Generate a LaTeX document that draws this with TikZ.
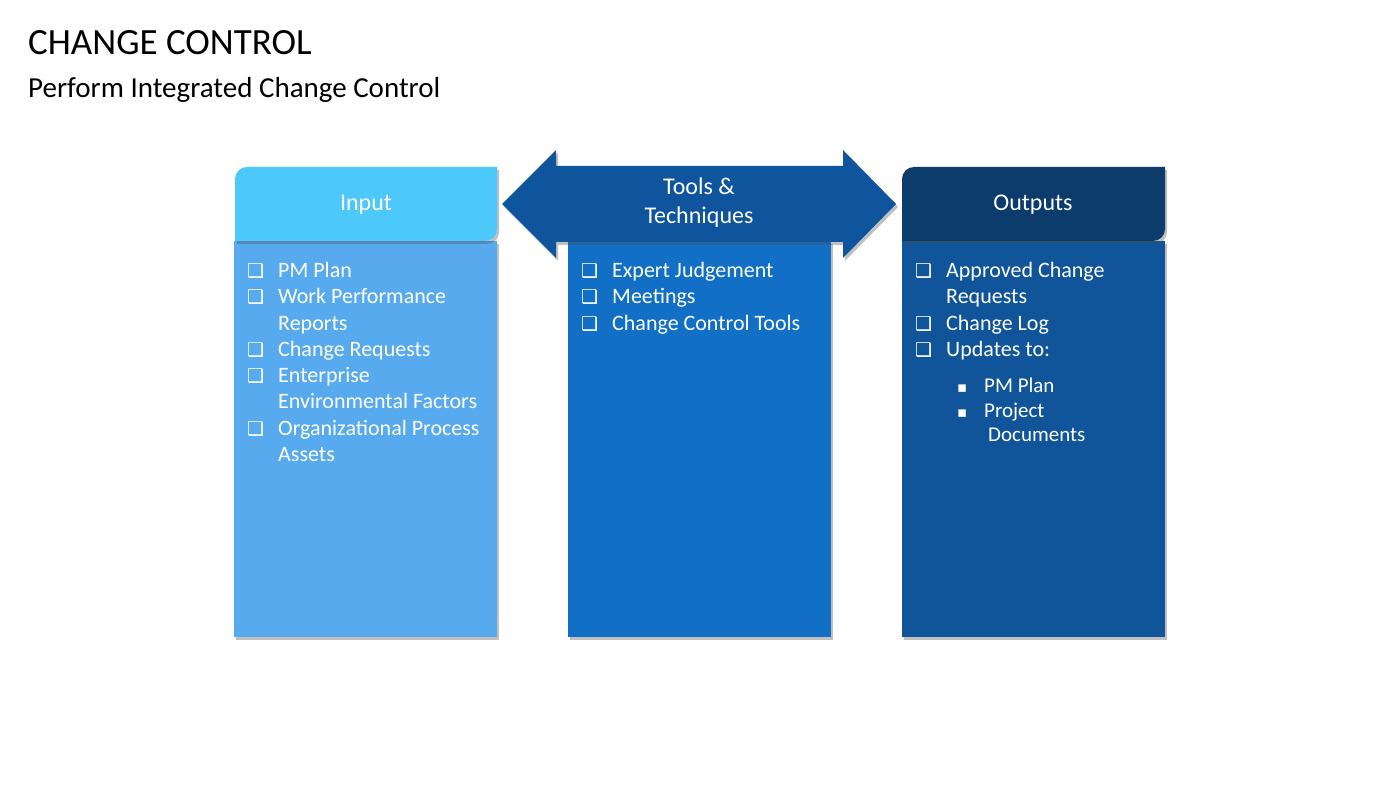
\documentclass[tikz,border=0pt]{standalone}
\usepackage{fontspec}
\setmainfont{Carlito}
\newfontfamily\symfont{DejaVu Sans}
\usetikzlibrary{shadows}
\definecolor{inhdr}{HTML}{4DC8FA}
\definecolor{inbody}{HTML}{58AAEE}
\definecolor{tlbody}{HTML}{1170C6}
\definecolor{tlarrow}{HTML}{0F559E}
\definecolor{outhdr}{HTML}{0C3C6C}
\definecolor{outbody}{HTML}{10549A}
\newcommand{\cbx}{\makebox[31pt][l]{\symfont\fontsize{19}{19}\selectfont ❑}}
\newcommand{\ind}{\hspace*{31pt}}
\newcommand{\sqb}{\makebox[28pt][l]{\hspace*{1pt}\symfont\fontsize{15}{15}\selectfont ▪}}
\tikzset{
  shd/.style={drop shadow={shadow xshift=2pt,shadow yshift=-3pt,opacity=0.35,fill=black!70}},
  hdrtxt/.style={text=white,font=\fontsize{24}{29}\selectfont,align=center,inner sep=0pt},
  listtxt/.style={text=white,font=\fontsize{22}{26.3}\selectfont,align=left,inner sep=0pt,anchor=north west},
  subtxt/.style={text=white,font=\fontsize{21}{24.5}\selectfont,align=left,inner sep=0pt,anchor=north west}
}
\begin{document}
\begin{tikzpicture}[x=1pt,y=1pt]
\useasboundingbox[fill=white] (0,0) rectangle (1400,788);
% title
\node[anchor=base west,inner sep=0pt,font=\fontsize{37}{42}\selectfont] (title) at (28,733) {CHANGE CONTROL};
\node[anchor=base west,inner sep=0pt,font=\fontsize{29}{33}\selectfont] (subtitle) at (28,690) {Perform Integrated Change Control};
% bodies
\fill[inbody,shd] (234,151) rectangle (497,547);
\fill[tlbody,shd] (568,151) rectangle (831,547);
\fill[outbody,shd] (902,151) rectangle (1165,547);
% input header
\fill[inhdr,shd] (235,547) -- (235,609) arc[start angle=180,end angle=90,radius=12] -- (497,621) -- (497,559) arc[start angle=0,end angle=-90,radius=12] -- cycle;
% outputs header
\fill[outhdr,shd] (902,547) -- (902,609) arc[start angle=180,end angle=90,radius=12] -- (1165,621) -- (1165,559) arc[start angle=0,end angle=-90,radius=12] -- cycle;
% double arrow
\fill[tlarrow,shd] (502,584) -- (556,638) -- (556,622) -- (843,622) -- (843,638) -- (896,584) -- (843,530) -- (843,546) -- (556,546) -- (556,530) -- cycle;
% header texts
\node[hdrtxt] (inlabel) at (366,583) {Input};
\node[hdrtxt] (tllabel) at (699,585) {Tools \&\\Techniques};
\node[hdrtxt] (outlabel) at (1033,583) {Outputs};
% lists
\node[listtxt] (inlist) at (247,526) {\cbx PM Plan\\ \cbx Work Performance\\ \ind Reports\\ \cbx Change Requests\\ \cbx Enterprise\\ \ind Environmental Factors\\ \cbx Organizational Process\\ \ind Assets};
\node[listtxt] (tllist) at (581,526) {\cbx Expert Judgement\\ \cbx Meetings\\ \cbx Change Control Tools};
\node[listtxt] (outlist) at (915,526) {\cbx Approved Change\\ \ind Requests\\ \cbx Change Log\\ \cbx Updates to:};
\node[subtxt] (sublist) at (956,410) {\sqb PM Plan\\ \sqb Project\\ \hspace*{32pt}Documents};
\end{tikzpicture}
\end{document}
